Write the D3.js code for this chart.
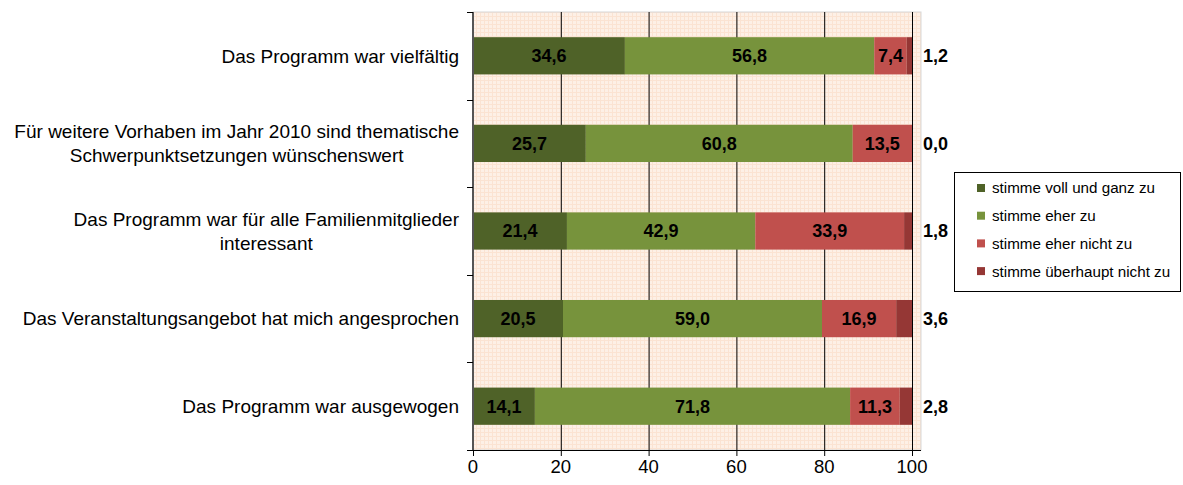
<!DOCTYPE html>
<html><head><meta charset="utf-8">
<script src="https://cdn.jsdelivr.net/npm/d3@7/dist/d3.min.js"></script>
<style>body{margin:0;background:#fff;font-family:"Liberation Sans",Arial,sans-serif}</style>
</head><body><svg id="c" width="1183" height="485"></svg>
<script>
const categories = [
  ["Das Programm war vielfältig"],
  ["Für weitere Vorhaben im Jahr 2010 sind thematische","Schwerpunktsetzungen wünschenswert"],
  ["Das Programm war für alle Familienmitglieder","interessant"],
  ["Das Veranstaltungsangebot hat mich angesprochen"],
  ["Das Programm war ausgewogen"]
];
const seriesNames = ["stimme voll und ganz zu","stimme eher zu","stimme eher nicht zu","stimme überhaupt nicht zu"];
const vollUndGanz = [34.6, 25.7, 21.4, 20.5, 14.1];
const eher = [56.8, 60.8, 42.9, 59.0, 71.8];
const eherNicht = [7.4, 13.5, 33.9, 16.9, 11.3];
const ueberhauptNicht = [1.2, 0.0, 1.8, 3.6, 2.8];
const xTicks = [0, 20, 40, 60, 80, 100];
const colors = ["#4f6228","#77933c","#c0504d","#953735"];

const series = [vollUndGanz, eher, eherNicht, ueberhauptNicht];
const svg = d3.select("#c");
const L = 473, R = 912, T = 12, B = 450, plotR = 921;
const x = d3.scaleLinear().domain([0,100]).range([L, R]);
const y = d3.scaleBand().domain(d3.range(categories.length)).range([T, B]).paddingInner(0.575).paddingOuter(0.2875);

// background pattern
const defs = svg.append("defs");
const pat = defs.append("pattern").attr("id","bg").attr("patternUnits","userSpaceOnUse").attr("width",4).attr("height",4);
pat.append("rect").attr("width",4).attr("height",4).attr("fill","#fdf0e6");
pat.append("rect").attr("width",4).attr("height",1).attr("fill","#fbe3d2");
pat.append("rect").attr("width",1).attr("height",4).attr("fill","#fbe3d2");
svg.append("rect").attr("x",L).attr("y",T).attr("width",plotR-L).attr("height",B-T).attr("fill","url(#bg)").attr("stroke","#d8d8d8").attr("stroke-width",1);

// gridlines
svg.append("g").selectAll("line").data(xTicks.filter(d=>d>0)).join("line")
  .attr("x1",d=>x(d)+0.5).attr("x2",d=>x(d)+0.5).attr("y1",T).attr("y2",B)
  .attr("stroke","#000").attr("stroke-width",1);

// stacked bars
const stackData = categories.map((c,i)=>{ const o={i}; series.forEach((s,k)=>o[k]=s[i]); return o; });
const stack = d3.stack().keys(d3.range(series.length))(stackData);
const g = svg.append("g");
stack.forEach((layer,k)=>{
  g.selectAll(null).data(layer).join("rect")
    .attr("x",d=>x(d[0])).attr("width",d=>x(d[1])-x(d[0]))
    .attr("y",(d,i)=>y(i)).attr("height",y.bandwidth())
    .attr("fill",colors[k]);
  g.selectAll(null).data(layer).join("text")
    .attr("x",(d)=> k===3 ? plotR+2 : (x(d[0])+x(d[1]))/2)
    .attr("y",(d,i)=>y(i)+y.bandwidth()/2)
    .attr("dy","0.36em")
    .attr("text-anchor", k===3 ? "start" : "middle")
    .attr("font-size","18px").attr("font-weight","bold").attr("fill","#000")
    .text(d=>d3.format(".1f")(d[1]-d[0]).replace(".",","));
});

// y axis
svg.append("line").attr("x1",L).attr("x2",L).attr("y1",T).attr("y2",B).attr("stroke","#555").attr("stroke-width",2);
const bounds = d3.range(categories.length+1).map(i=>T+(B-T)*i/categories.length);
svg.append("g").selectAll("line").data(bounds).join("line")
  .attr("x1",L-6).attr("x2",L).attr("y1",d=>Math.round(d)+0.5).attr("y2",d=>Math.round(d)+0.5)
  .attr("stroke","#000");

// category labels
categories.forEach((lines,i)=>{
  const cy = y(i)+y.bandwidth()/2;
  const gl = svg.append("g");
  const lh = 24;
  const ts = lines.map((t,j)=>gl.append("text").attr("font-size","19px").attr("fill","#000")
      .attr("y", cy + (j-(lines.length-1)/2)*lh).attr("dy","0.36em").text(t));
  const w = d3.max(ts,t=>t.node().getComputedTextLength());
  ts.forEach(t=>t.attr("x", 459 - w/2).attr("text-anchor","middle"));
});

// x axis
svg.append("line").attr("x1",L-6).attr("x2",plotR).attr("y1",B+0.5).attr("y2",B+0.5).attr("stroke","#000");
const xa = svg.append("g");
xa.selectAll("line").data(xTicks).join("line")
  .attr("x1",d=>x(d)+0.5).attr("x2",d=>x(d)+0.5).attr("y1",B).attr("y2",B+6).attr("stroke","#000");
xa.selectAll("text").data(xTicks).join("text")
  .attr("x",d=>x(d)).attr("y",473).attr("text-anchor","middle").attr("font-size","18.5px").text(d=>d);

// legend
const lg = svg.append("g");
lg.append("rect").attr("x",954.5).attr("y",172.5).attr("width",226).attr("height",119).attr("fill","#fff").attr("stroke","#000");
seriesNames.forEach((n,k)=>{
  const yy = 188 + k*27.7;
  lg.append("rect").attr("x",977).attr("y",yy-4).attr("width",8).attr("height",8).attr("fill",colors[k]);
  lg.append("text").attr("x",992).attr("y",yy).attr("dy","0.36em").attr("font-size","15.2px").text(n);
});
</script></body></html>
